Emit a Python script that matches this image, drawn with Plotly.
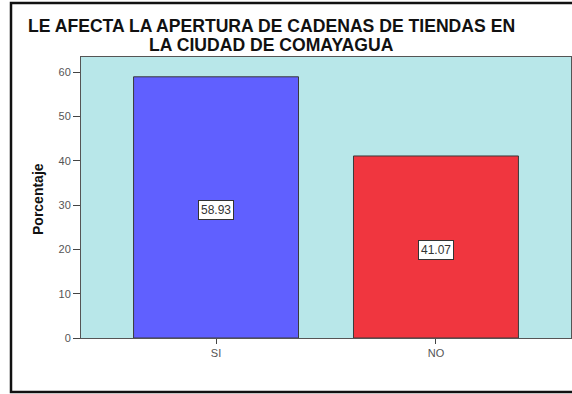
import plotly.graph_objects as go

categories = ["SI", "NO"]
percentages = [58.93, 41.07]
bar_colors = ["#6060ff", "#f0363f"]
y_ticks = [0, 10, 20, 30, 40, 50, 60]
title_lines = ["LE AFECTA LA APERTURA DE CADENAS DE TIENDAS EN",
               "LA CIUDAD DE COMAYAGUA"]
title_line_y = [26, 45]

W, H = 572, 394
L, R, T, B = 81, 1, 57, 56
plot_w = W - L - R
plot_h = H - T - B


def px_to_paper_x(px):
    return (px - L) / plot_w


def px_to_paper_y(py):
    return (H - B - py) / plot_h


fig = go.Figure()
fig.add_trace(go.Bar(
    x=categories,
    y=percentages,
    width=0.75,
    marker=dict(color=bar_colors, line=dict(color="#3a3a3a", width=1)),
    hoverinfo="x+y",
))

# value labels in boxes, a little below the middle of each bar
for cat, val in zip(categories, percentages):
    fig.add_annotation(
        x=cat, y=val / 2, yshift=-3, text=f"{val:.2f}", showarrow=False,
        font=dict(family="Liberation Sans, Arial", size=12, color="#333333"),
        bgcolor="white", bordercolor="#333333", borderwidth=1, borderpad=2,
    )

# two-line title, set tightly
for line, ly in zip(title_lines, title_line_y):
    fig.add_annotation(
        xref="paper", yref="paper",
        x=px_to_paper_x(271), y=px_to_paper_y(ly),
        text=f"<b>{line}</b>", showarrow=False, xanchor="center", yanchor="middle",
        height=16, valign="middle",
        font=dict(family="Liberation Sans, Arial", size=17.6, color="#111111"),
    )

# y axis title
fig.add_annotation(
    xref="paper", yref="paper",
    x=px_to_paper_x(38), y=px_to_paper_y(199),
    text="<b>Porcentaje</b>", showarrow=False, textangle=-90,
    xanchor="center", yanchor="middle",
    font=dict(family="Liberation Sans, Arial", size=14, color="#111111"),
)

# outer frame
fig.add_shape(
    type="rect", xref="paper", yref="paper",
    x0=px_to_paper_x(11), x1=px_to_paper_x(600),
    y0=px_to_paper_y(392), y1=px_to_paper_y(3),
    line=dict(color="#111111", width=2.5), layer="below",
)

fig.update_layout(
    width=W, height=H,
    margin=dict(l=L, r=R, t=T, b=B),
    paper_bgcolor="white",
    plot_bgcolor="#b8e7e9",
    showlegend=False,
    bargap=0.25,
    xaxis=dict(
        range=[-0.614, 1.614], showgrid=False, zeroline=False,
        showline=True, linecolor="#555555", linewidth=1, mirror=True,
        ticks="outside", ticklen=5, tickcolor="#444444",
        tickfont=dict(family="Liberation Sans, Arial", size=11, color="#555555"),
    ),
    yaxis=dict(
        range=[0, 63.4], tickvals=y_ticks, showgrid=False, zeroline=False,
        showline=True, linecolor="#555555", linewidth=1, mirror=True,
        ticks="outside", ticklen=7, tickcolor="#444444",
        tickfont=dict(family="Liberation Sans, Arial", size=11, color="#555555"),
    ),
)

fig.write_html("out.html")
